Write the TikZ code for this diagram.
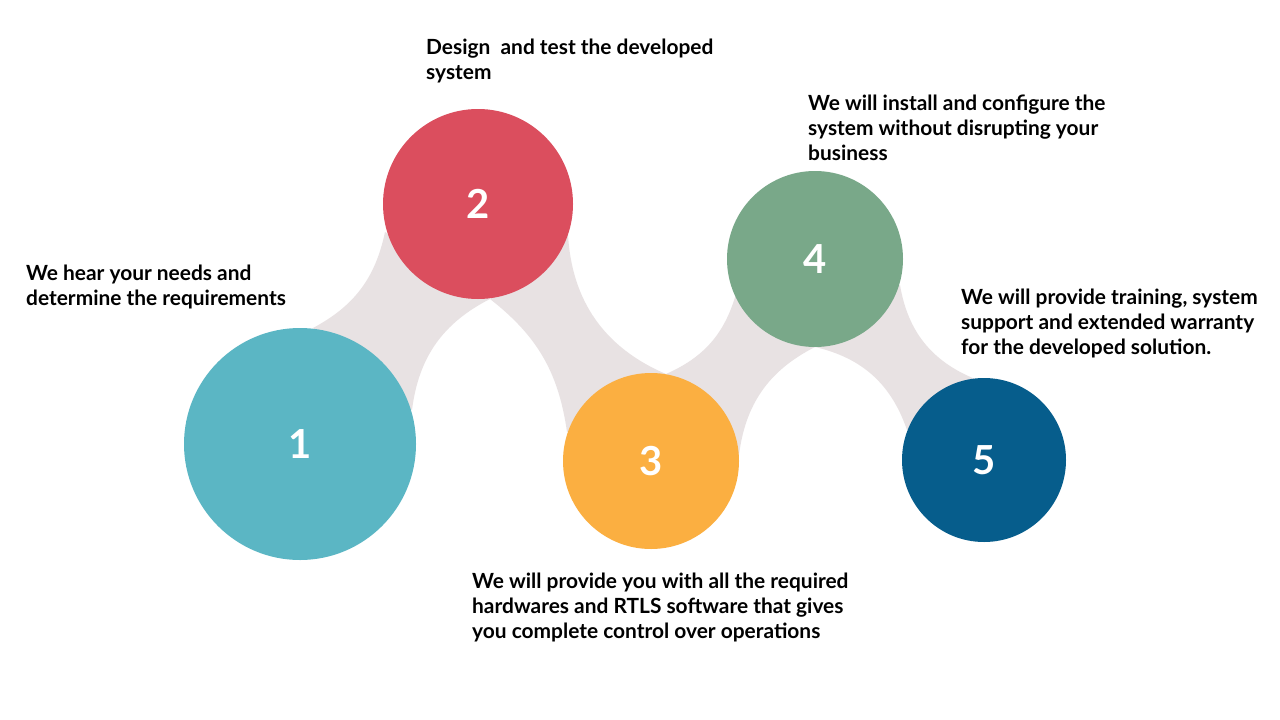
\documentclass[tikz,border=0pt]{standalone}
\usepackage{fontspec}
\setmainfont{Lato}
\definecolor{cone}{HTML}{5BB6C4}
\definecolor{ctwo}{HTML}{DB4E5E}
\definecolor{cthree}{HTML}{FBAF41}
\definecolor{cfour}{HTML}{79A889}
\definecolor{cfive}{HTML}{065D8C}
\definecolor{bandgray}{HTML}{E8E2E3}
\tikzset{
  band/.style={fill=bandgray, draw=none},
  stepcircle/.style={circle, draw=none, inner sep=0pt, text=white,
    font=\fontsize{40}{40}\selectfont\bfseries},
  desc/.style={anchor=north west, inner sep=0pt, align=left,
    font=\fontsize{20.9}{25}\selectfont\bfseries, text=black},
}
\begin{document}
\begin{tikzpicture}[x=1pt,y=-1pt]
\useasboundingbox[fill=white] (0,0) rectangle (1280,720);
% band end points
\coordinate (a1) at (313,328);
\coordinate (b1) at (385,232);
\coordinate (c1) at (490,299);
\coordinate (d1) at (412,410);
\coordinate (a2) at (568,234);
\coordinate (b2) at (666,374);
\coordinate (d2) at (567,432);
\coordinate (b3) at (736,294);
\coordinate (c3) at (815,347);
\coordinate (d3) at (739,455);
\coordinate (a4) at (900,285);
\coordinate (b4) at (975,379);
\coordinate (d4) at (907,430);
% bands
\fill[band] (a1) to[bend right=25] (b1) -- (c1) to[bend right=28] (d1) -- cycle;
\fill[band] (a2) to[bend right=32] (b2) -- (d2) to[bend right=22] (c1) -- cycle;
\fill[band] (b2) to[bend right=25] (b3) -- (c3) to[bend right=28] (d3) -- cycle;
\fill[band] (a4) to[bend right=29] (b4) -- (d4) to[bend right=29] (c3) -- cycle;
% circles
\node[stepcircle, fill=cone, minimum size=232pt] (n1) at (300,444) {1};
\node[stepcircle, fill=ctwo, minimum size=190pt] (n2) at (478,204) {2};
\node[stepcircle, fill=cthree, minimum size=176pt] (n3) at (651,461) {3};
\node[stepcircle, fill=cfour, minimum size=176pt] (n4) at (815,259) {4};
\node[stepcircle, fill=cfive, minimum size=164pt] (n5) at (984,460) {5};
% texts
\node[desc] (t1) at (26,264.5) {We hear your needs and\\determine the requirements};
\node[desc] (t2) at (426,38.5) {Design\ \ and test the developed\\system};
\node[desc] (t3) at (472,572.5) {We will provide you with all the required\\hardwares and RTLS software that gives\\you complete control over operations};
\node[desc] (t4) at (808,94.5) {We will install and configure the\\system without disrupting your\\business};
\node[desc] (t5) at (961,288.5) {We will provide training, system\\support and extended warranty\\for the developed solution.};
\end{tikzpicture}
\end{document}
